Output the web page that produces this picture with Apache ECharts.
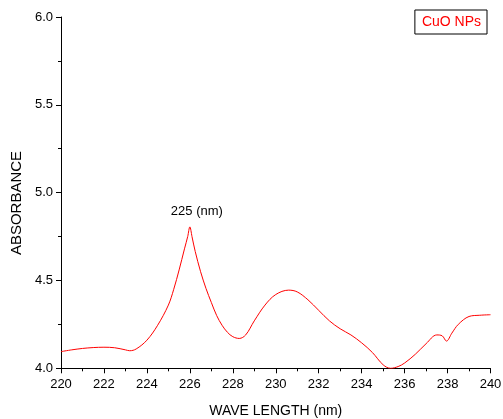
<!DOCTYPE html>
<html>
<head>
<meta charset="utf-8">
<script src="https://cdn.jsdelivr.net/npm/echarts@6/dist/echarts.min.js"></script>
<style>
  html, body { margin: 0; padding: 0; background: #fff; }
  #chart { width: 503px; height: 419px; }
</style>
</head>
<body>
<div id="chart"></div>
<script>
// wavelength (nm) and absorbance
const wavelength = [220, 220.5, 221, 221.5, 222, 222.5, 223, 223.2, 223.5, 224, 224.5, 225, 225.25, 225.5, 225.75, 225.9, 226,
  226.1, 226.25, 226.5, 226.75, 227, 227.25, 227.5, 227.75, 228, 228.3, 228.6, 229, 229.5, 230, 230.6, 231, 231.5,
  232, 232.5, 233, 233.5, 234, 234.5, 235, 235.35, 235.7, 236, 236.5, 237, 237.5, 237.75, 237.95, 238.2,
  238.5, 239, 239.5, 240]
const absorbance = [4.095, 4.105, 4.113, 4.118, 4.12, 4.117, 4.105, 4.10, 4.11, 4.16, 4.245, 4.36, 4.45, 4.56, 4.68, 4.75, 4.805,
  4.75, 4.665, 4.55, 4.455, 4.375, 4.30, 4.245, 4.205, 4.18, 4.17, 4.19, 4.27, 4.36, 4.42, 4.445, 4.435, 4.39,
  4.33, 4.27, 4.225, 4.19, 4.145, 4.09, 4.02, 4.0, 4.01, 4.03, 4.08, 4.14, 4.19, 4.185, 4.155, 4.2,
  4.25, 4.295, 4.302, 4.305]
const seriesName = 'CuO NPs'
const peakLabel = '225 (nm)'
const peakAt = [226, 4.805]

const font = 'Liberation Sans, Arial, sans-serif'
const chart = echarts.init(document.getElementById('chart'))

chart.setOption({
  animation: false,
  grid: { left: 61, right: 12.5, top: 17, bottom: 50.7, containLabel: false, outerBoundsMode: 'none' },
  legend: {
    data: [seriesName],
    right: 16,
    top: 10,
    icon: 'none',
    itemWidth: 0,
    itemGap: 0,
    padding: [5, 6, 5, 2],
    borderColor: '#000',
    borderWidth: 1,
    textStyle: { color: '#ff0000', fontSize: 14, fontFamily: font }
  },
  xAxis: {
    type: 'value',
    min: 220,
    max: 240,
    interval: 2,
    name: 'WAVE LENGTH (nm)',
    nameLocation: 'middle',
    nameGap: 36,
    nameTextStyle: { color: '#000', fontSize: 14, fontFamily: font },
    axisLine: { lineStyle: { color: '#000', width: 1 } },
    axisTick: { length: 5, lineStyle: { color: '#000' } },
    minorTick: { show: true, splitNumber: 2, length: 3, lineStyle: { color: '#000' } },
    splitLine: { show: false },
    axisLabel: { color: '#000', fontSize: 13, fontFamily: font, margin: 10 }
  },
  yAxis: {
    type: 'value',
    min: 4,
    max: 6,
    interval: 0.5,
    axisLine: { show: true, lineStyle: { color: '#000', width: 1 } },
    axisTick: { show: true, length: 5, lineStyle: { color: '#000' } },
    minorTick: { show: true, splitNumber: 2, length: 3, lineStyle: { color: '#000' } },
    splitLine: { show: false },
    axisLabel: {
      color: '#000', fontSize: 13, fontFamily: font, margin: 8,
      formatter: v => v.toFixed(1)
    }
  },
  graphic: [{
    type: 'text',
    x: 17,
    y: 203,
    rotation: Math.PI / 2,
    style: {
      text: 'ABSORBANCE',
      fill: '#000',
      font: '15px ' + font,
      textAlign: 'center',
      textVerticalAlign: 'middle'
    }
  }],
  series: [{
    name: seriesName,
    type: 'line',
    data: wavelength.map((w, i) => [w, absorbance[i]]),
    showSymbol: false,
    smooth: 0.35,
    lineStyle: { color: '#ff0000', width: 1 },
    itemStyle: { color: '#ff0000' },
    markPoint: {
      symbol: 'circle',
      symbolSize: 0,
      data: [{ coord: peakAt }],
      label: {
        show: true,
        position: 'top',
        formatter: peakLabel,
        color: '#000',
        fontSize: 13,
        fontFamily: font,
        offset: [7, -4]
      }
    }
  }]
})
</script>
</body>
</html>
